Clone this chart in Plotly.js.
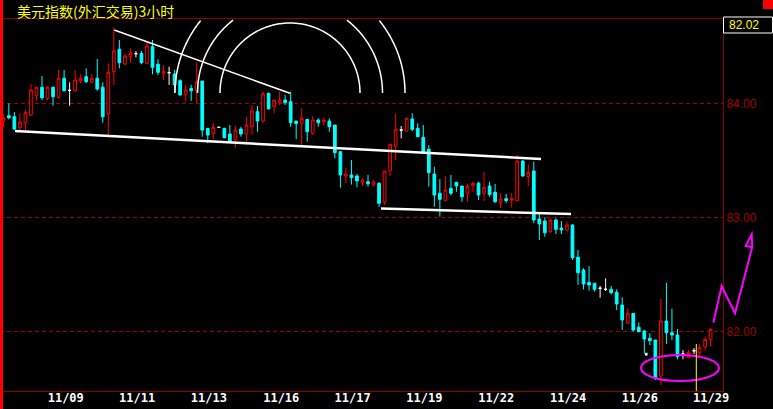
<!DOCTYPE html>
<html>
<head>
<meta charset="utf-8">
<script src="https://cdn.plot.ly/plotly-3.0.1.min.js"></script>
<style>html,body{margin:0;padding:0;background:#000;}#chart{width:773px;height:409px;}</style>
</head>
<body>
<div id="chart"></div>
<script>
// ---- data (3-hour candles, US Dollar Index) ----
const opens = [
83.842, 83.895, 83.886, 83.789, 83.833, 83.901, 84.070, 84.144, 84.047, 84.144,
84.056, 84.223, 84.117, 84.114, 84.199, 84.237, 84.188, 84.223, 84.144, 83.910,
84.281, 84.477, 84.348, 84.412, 84.439, 84.442, 84.354, 84.500, 84.346, 84.267,
84.272, 84.261, 84.202, 84.082, 84.133, 84.116, 84.199, 83.784, 83.740, 83.793,
83.784, 83.734, 83.682, 83.778, 83.734, 83.798, 83.930, 83.848, 84.091, 83.974,
84.012, 84.032, 84.018, 83.848, 83.828, 83.863, 83.740, 83.857, 83.842, 83.848,
83.813, 83.579, 83.366, 83.375, 83.366, 83.307, 83.316, 83.287, 83.302, 83.135,
83.412, 83.623, 83.769, 83.760, 83.866, 83.784, 83.705, 83.600, 83.383, 83.214,
83.149, 83.258, 83.311, 83.278, 83.214, 83.281, 83.302, 83.214, 83.278, 83.223,
83.135, 83.167, 83.155, 83.149, 83.497, 83.360, 83.410, 82.989, 82.971, 82.877,
82.980, 82.910, 82.892, 82.936, 82.653, 82.541, 82.433, 82.425, 82.381, 82.372,
82.372, 82.346, 82.234, 82.074, 82.161, 82.039, 82.006, 81.942, 81.927, 81.611,
82.094, 81.991, 81.971, 81.804, 81.775, 81.833, 81.816, 81.868, 81.933
];
const highs = [
83.910, 84.003, 83.927, 83.916, 83.945, 84.173, 84.149, 84.243, 84.155, 84.149,
84.296, 84.296, 84.188, 84.296, 84.258, 84.311, 84.261, 84.392, 84.188, 84.354,
84.670, 84.559, 84.442, 84.486, 84.462, 84.462, 84.544, 84.559, 84.389, 84.339,
84.325, 84.296, 84.214, 84.164, 84.164, 84.366, 84.199, 83.784, 83.833, 83.796,
83.789, 83.813, 83.804, 83.798, 83.886, 83.989, 83.980, 84.105, 84.096, 84.032,
84.105, 84.076, 84.105, 83.848, 83.960, 83.863, 83.892, 83.872, 83.881, 83.872,
83.813, 83.579, 83.439, 83.506, 83.383, 83.346, 83.375, 83.331, 83.311, 83.410,
83.644, 83.910, 83.804, 83.881, 83.916, 83.828, 83.813, 83.638, 83.447, 83.339,
83.366, 83.375, 83.311, 83.278, 83.296, 83.316, 83.316, 83.404, 83.316, 83.296,
83.214, 83.208, 83.214, 83.550, 83.506, 83.468, 83.491, 83.039, 83.004, 82.995,
82.995, 82.971, 82.965, 82.945, 82.717, 82.556, 82.576, 82.425, 82.401, 82.468,
82.401, 82.372, 82.302, 82.205, 82.161, 82.082, 82.015, 81.986, 81.927, 82.287,
82.430, 82.202, 82.024, 81.839, 81.839, 81.857, 81.889, 81.956, 82.030
];
const lows = [
83.798, 83.863, 83.769, 83.763, 83.763, 83.892, 84.026, 84.032, 84.032, 83.982,
84.044, 84.105, 83.982, 84.105, 84.179, 84.184, 84.179, 84.114, 83.833, 83.705,
84.164, 84.311, 84.339, 84.360, 84.407, 84.346, 84.346, 84.258, 84.252, 84.208,
84.164, 84.096, 84.072, 84.018, 84.024, 84.003, 83.711, 83.653, 83.690, 83.790,
83.696, 83.658, 83.614, 83.711, 83.638, 83.725, 83.754, 83.828, 83.954, 83.916,
83.989, 83.989, 83.798, 83.690, 83.638, 83.667, 83.725, 83.798, 83.807, 83.754,
83.521, 83.263, 83.302, 83.291, 83.267, 83.278, 83.272, 83.272, 83.096, 83.111,
83.366, 83.506, 83.696, 83.760, 83.760, 83.711, 83.579, 83.272, 83.096, 83.009,
83.149, 83.199, 83.228, 83.140, 83.140, 83.228, 83.155, 83.146, 83.184, 83.131,
83.082, 83.131, 83.088, 83.149, 83.360, 83.278, 82.951, 82.804, 82.833, 82.868,
82.857, 82.857, 82.877, 82.629, 82.410, 82.372, 82.360, 82.351, 82.298, 82.357,
82.328, 82.190, 82.015, 82.074, 82.000, 82.000, 81.811, 81.883, 81.576, 81.532,
81.892, 81.927, 81.758, 81.758, 81.767, 81.804, 81.787, 81.833, 81.868
];
const closes = [
83.881, 83.877, 83.778, 83.839, 83.921, 84.120, 84.144, 84.053, 84.144, 84.061,
84.223, 84.114, 84.117, 84.208, 84.223, 84.193, 84.223, 84.129, 83.886, 84.275,
84.462, 84.360, 84.418, 84.442, 84.439, 84.360, 84.506, 84.319, 84.275, 84.281,
84.272, 84.164, 84.076, 84.120, 84.114, 84.190, 83.769, 83.725, 83.793, 83.793,
83.702, 83.667, 83.769, 83.734, 83.813, 83.936, 83.848, 84.088, 83.954, 84.032,
84.032, 84.009, 83.833, 83.825, 83.872, 83.754, 83.857, 83.833, 83.857, 83.798,
83.570, 83.375, 83.383, 83.353, 83.322, 83.331, 83.298, 83.313, 83.126, 83.410,
83.644, 83.775, 83.769, 83.872, 83.775, 83.711, 83.579, 83.395, 83.199, 83.161,
83.243, 83.214, 83.278, 83.184, 83.278, 83.302, 83.199, 83.267, 83.205, 83.140,
83.164, 83.149, 83.167, 83.497, 83.366, 83.398, 82.980, 82.945, 82.868, 82.980,
82.898, 82.892, 82.936, 82.649, 82.518, 82.418, 82.410, 82.372, 82.381, 82.372,
82.342, 82.243, 82.103, 82.161, 82.015, 82.000, 81.936, 81.921, 81.591, 82.094,
81.991, 81.971, 81.781, 81.804, 81.819, 81.833, 81.860, 81.933, 82.021
];
const dateLabels = ["11/09","11/11","11/13","11/16","11/17","11/19","11/22","11/24","11/26","11/29"];
const dateLabelBars = [11.3, 24.2, 37.2, 50.3, 63.2, 76.2, 89.2, 102.2, 115.2, 128.1];
const priceTicks = [82, 83, 84];
const priceTickText = ["82.00", "83.00", "84.00"];
const lastPrice = "82.02";
const chartTitle = "美元指数(外汇交易)3小时";

// ---- split candles by direction ----
function subset(pred){
  const s = {x:[],open:[],high:[],low:[],close:[]};
  opens.forEach((o,i)=>{ if(pred(o,closes[i])){ s.x.push(i); s.open.push(o); s.high.push(highs[i]); s.low.push(lows[i]); s.close.push(closes[i]); } });
  return s;
}
function candle(s, lineCol, fillCol){
  return {type:'candlestick', x:s.x, open:s.open, high:s.high, low:s.low, close:s.close,
    increasing:{line:{color:lineCol,width:1}, fillcolor:fillCol},
    decreasing:{line:{color:lineCol,width:1}, fillcolor:fillCol},
    whiskerwidth:0, hoverinfo:'skip', showlegend:false};
}
const up = subset((o,c)=>c>o), down = subset((o,c)=>c<o), doji = subset((o,c)=>c===o);
const traces = [candle(up,'#ff0000','#000000'), candle(down,'#00ffff','#00ffff'), candle(doji,'#ffffff','#ffffff')];

// ---- overlay drawing helpers (pixel -> paper) ----
const W=773, H=409, ML=0, MR=50, MT=19, MB=18;
const PW=W-ML-MR, PH=H-MT-MB;
const px = x => (x-ML)/PW;
const py = y => (MT+PH-y)/PH;
function pline(x0,y0,x1,y1,color,width){
  return {type:'line',xref:'paper',yref:'paper',x0:px(x0),y0:py(y0),x1:px(x1),y1:py(y1),line:{color:color,width:width}};
}
function ppath(pts,color,width,close){
  let d = pts.map((p,i)=>(i?'L':'M')+px(p[0]).toFixed(5)+','+py(p[1]).toFixed(5)).join(' ');
  if(close) d += ' Z';
  return {type:'path',xref:'paper',yref:'paper',path:d,line:{color:color,width:width}};
}
function prect(x0,y0,x1,y1,fill,lineCol,lw){
  return {type:'rect',xref:'paper',yref:'paper',x0:px(x0),y0:py(y0),x1:px(x1),y1:py(y1),fillcolor:fill,line:{color:lineCol||fill,width:lw||0}};
}
function arc(cx,cy,r,color,width){
  let d='', pen=false;
  for(let k=0;k<=180;k++){
    const t=Math.PI*k/180, x=cx-r*Math.cos(t), y=cy-r*Math.sin(t);
    if(y<MT+0.5){pen=false;continue;}
    d += (pen?'L':'M')+px(x).toFixed(5)+','+py(y).toFixed(5)+' ';
    pen=true;
  }
  return {type:'path',xref:'paper',yref:'paper',path:d.trim(),line:{color:color,width:width}};
}

const shapes = [
  pline(114.3,30,290,93.3,'#ffffff',1.5),
  pline(15,131,541,159,'#ffffff',2.5),
  pline(381,208.5,571,214,'#ffffff',2.5),
  arc(290,93,70,'#ffffff',1.5),
  arc(290,93,92.5,'#ffffff',1.5),
  arc(290,93,115,'#ffffff',1.5),
  {type:'circle',xref:'paper',yref:'paper',x0:px(641),x1:px(719),y0:py(381),y1:py(355),line:{color:'#ff00ff',width:2}},
  ppath([[713.3,322.7],[721.7,286],[735,313.3],[752.2,247],[751.7,234.3],[745.7,246],[752.7,247.3]],'#ff00ff',2,false),
  pline(696.3,344,696.3,391,'#ffff00',1),
  prect(644.8,352.8,647.6,355.6,'#ffffff'),
  prect(0,0,3,409,'#ff0000'),
  prect(763,0,773,9,'#ff0000'),
  prect(723.5,17,772.5,33,'#000000','#ffffff',1)
];

const layout = {
  width:W, height:H,
  margin:{l:ML,r:MR,t:MT,b:MB,pad:0},
  paper_bgcolor:'#000000', plot_bgcolor:'#000000',
  showlegend:false,
  xaxis:{
    range:[-0.6,130.24], rangeslider:{visible:false}, fixedrange:true,
    tickmode:'array', tickvals:dateLabelBars, ticktext:dateLabels, ticks:'',
    ticklabelstandoff:-4,
    tickfont:{family:'DejaVu Sans Mono, monospace',size:12,color:'#ffffff',weight:'bold'},
    showgrid:false, zeroline:false,
    showline:true, linecolor:'#8c0000', linewidth:1, mirror:true
  },
  yaxis:{
    range:[81.480,84.743], side:'right', fixedrange:true,
    tickmode:'array', tickvals:priceTicks, ticktext:priceTickText, ticks:'',
    tickfont:{family:'Liberation Sans Narrow, Liberation Sans, Arial',size:12,color:'#a00000'},
    showgrid:true, gridcolor:'#a00000', griddash:'4px,3px', gridwidth:1,
    zeroline:false, showline:true, linecolor:'#8c0000', linewidth:1, mirror:true
  },
  shapes:shapes,
  annotations:[
    {xref:'paper',yref:'paper',x:px(16),y:py(0),xanchor:'left',yanchor:'top',showarrow:false,borderpad:0,
     text:chartTitle,font:{family:'Noto Sans CJK SC',size:14,color:'#ffff00'}},
    {xref:'paper',yref:'paper',x:px(727),y:py(25),xanchor:'left',yanchor:'middle',showarrow:false,
     text:lastPrice,font:{family:'Liberation Sans Narrow, Liberation Sans, Arial',size:12,color:'#ffff00'}}
  ]
};

Plotly.newPlot('chart', traces, layout, {staticPlot:true, displayModeBar:false});
</script>
</body>
</html>
